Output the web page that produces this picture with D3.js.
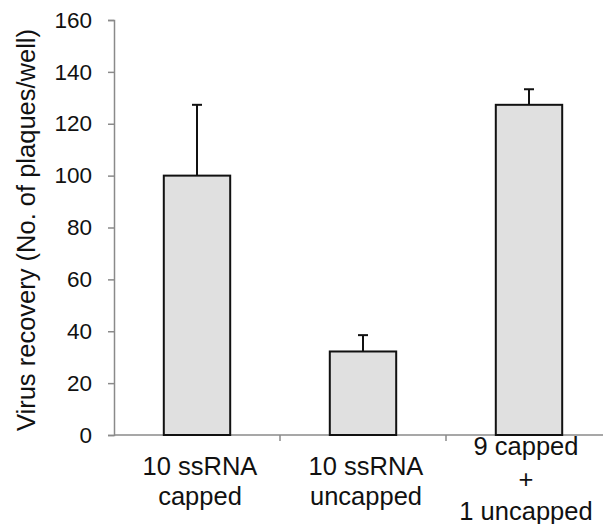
<!DOCTYPE html>
<html>
<head>
<meta charset="utf-8">
<script src="https://d3js.org/d3.v7.min.js"></script>
<style>
  body { margin: 0; background: #fff; }
  svg { display: block; font-family: "Liberation Sans", Arial, sans-serif; }
</style>
</head>
<body>
<div id="chart"></div>
<script>
// categories, each split into label lines
let categories = ['cap', 'uncap', 'mix'];
let category_lines = [['10 ssRNA', 'capped'], ['10 ssRNA', 'uncapped'], ['9 capped', '+', '1 uncapped']];
let recovery_values = [100, 32.2, 127.3];
let error_values = [27.3, 6.3, 6.0];
let y_ticks = [0, 20, 40, 60, 80, 100, 120, 140, 160];

let width = 603, height = 524;
let margin = {top: 20, left: 114, bottom: 89};
let axis_color = '#8a8a8a';

let svg = d3.select('#chart').append('svg')
    .attr('width', width)
    .attr('height', height);

let y = d3.scaleLinear()
    .domain([0, 160])
    .range([height - margin.bottom, margin.top]);

let x = d3.scaleBand()
    .domain(categories)
    .range([margin.left, margin.left + 3 * 166])
    .paddingInner(0.6)
    .paddingOuter(0.3);

// y axis
let y_axis = svg.append('g')
    .attr('transform', 'translate(' + margin.left + ',0)')
    .call(d3.axisLeft(y).tickValues(y_ticks).tickSize(6).tickPadding(16));
y_axis.select('.domain').attr('stroke', axis_color).attr('stroke-width', 1.5);
y_axis.selectAll('.tick line').attr('stroke', axis_color).attr('stroke-width', 1.5);
y_axis.selectAll('.tick text')
    .attr('font-size', '22.5px')
    .attr('font-family', '"Liberation Sans", Arial, sans-serif')
    .attr('fill', '#111');

// x axis: ticks at band boundaries
let band_edges = [margin.left, margin.left + 166, margin.left + 332, margin.left + 498];
svg.append('line')
    .attr('x1', margin.left).attr('x2', width)
    .attr('y1', y(0)).attr('y2', y(0))
    .attr('stroke', axis_color).attr('stroke-width', 1.5);
svg.selectAll('.xtick').data(band_edges.slice(1)).enter().append('line')
    .attr('class', 'xtick')
    .attr('x1', d => d).attr('x2', d => d)
    .attr('y1', y(0)).attr('y2', y(0) + 6)
    .attr('stroke', axis_color).attr('stroke-width', 1.5);

// bars
svg.selectAll('.bar').data(categories).enter().append('rect')
    .attr('class', 'bar')
    .attr('x', d => x(d))
    .attr('y', (d, i) => y(recovery_values[i]))
    .attr('width', x.bandwidth())
    .attr('height', (d, i) => y(0) - y(recovery_values[i]))
    .attr('fill', '#e0e0e0')
    .attr('stroke', '#111')
    .attr('stroke-width', 2);

// error bars (upper only)
let cap_half = 5;
categories.forEach(function (cat, i) {
    let cx = x(cat) + x.bandwidth() / 2;
    let top = y(recovery_values[i] + error_values[i]);
    svg.append('line')
        .attr('x1', cx).attr('x2', cx)
        .attr('y1', y(recovery_values[i])).attr('y2', top)
        .attr('stroke', '#111').attr('stroke-width', 2);
    svg.append('line')
        .attr('x1', cx - cap_half).attr('x2', cx + cap_half)
        .attr('y1', top).attr('y2', top)
        .attr('stroke', '#111').attr('stroke-width', 2);
});

// category labels
categories.forEach(function (cat, i) {
    let lines = category_lines[i];
    let cx = x(cat) + x.bandwidth() / 2 + (lines.length === 3 ? -3 : 3);
    let first = lines.length === 3 ? 455 : 475;
    let step = lines.length === 3 ? 32.5 : 30;
    let t = svg.append('text')
        .attr('text-anchor', 'middle')
        .attr('font-size', '25.5px')
        .attr('fill', '#111');
    lines.forEach(function (ln, j) {
        t.append('tspan').attr('x', cx).attr('y', first + j * step).text(ln);
    });
});

// y title
svg.append('text')
    .attr('transform', 'translate(35,' + 230 + ') rotate(-90)')
    .attr('text-anchor', 'middle')
    .attr('font-size', '25.5px')
    .attr('fill', '#111')
    .text('Virus recovery (No. of plaques/well)');
</script>
</body>
</html>
